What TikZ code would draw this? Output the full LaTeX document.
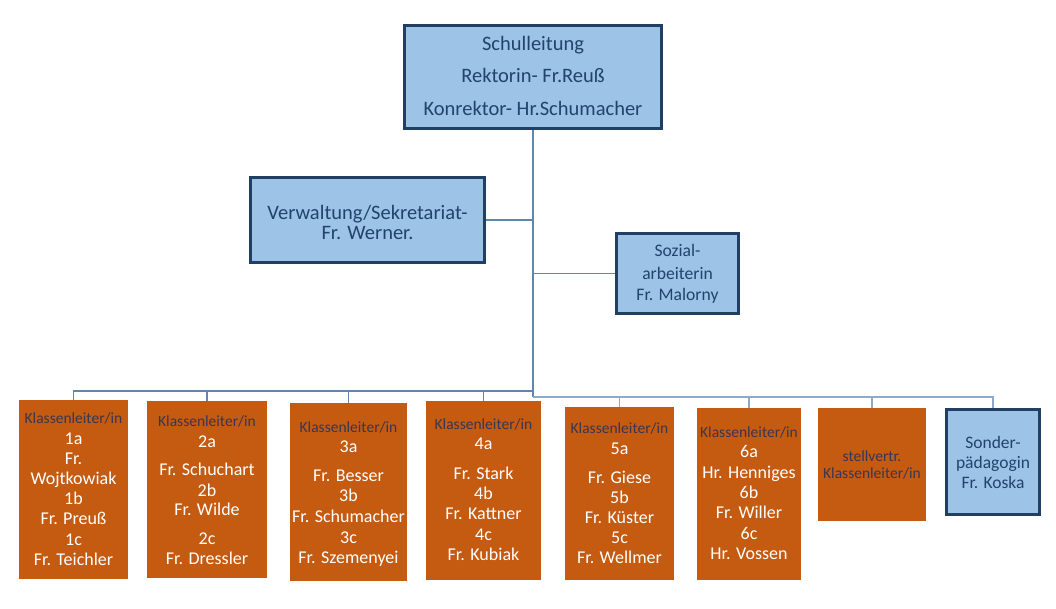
\documentclass[tikz,border=0pt]{standalone}
\usepackage{fontspec}
\setmainfont{Carlito}
\definecolor{boxblue}{HTML}{9DC3E6}
\definecolor{boxedge}{HTML}{213F60}
\definecolor{txtblue}{HTML}{22436B}
\definecolor{orng}{HTML}{C55A11}
\definecolor{klt}{HTML}{3A3650}
\definecolor{conn}{HTML}{5E86B0}
\definecolor{connlt}{HTML}{8EAACB}
\pgfdeclarelayer{bg}
\pgfsetlayers{bg,main}
\tikzset{
  bluebox/.style={draw=boxedge, fill=boxblue, line width=2.6pt, inner sep=0pt},
  orangebox/.style={fill=orng, draw=none, inner sep=0pt},
  conline/.style={draw=conn, line width=1.6pt},
  conlight/.style={draw=connlt, line width=1.6pt},
  bt/.style={anchor=base, text=txtblue, inner sep=0pt},
  wt/.style={anchor=base, text=white, font=\fontsize{18}{20}\selectfont, inner sep=0pt},
  kt/.style={anchor=base, text=klt, font=\fontsize{15.5}{18}\selectfont, inner sep=0pt}
}
\newcommand\klines[3]{%
  \foreach \yy/\tx [count=\i] in {#3} \node[wt] (#1\i) at (#2,\yy) {\tx};}
\begin{document}
\begin{tikzpicture}[x=1pt,y=-1pt]
\useasboundingbox (0,0) rectangle (1056,608);

% top box
\node[bluebox, minimum width=257.4pt, minimum height=103.4pt] (top) at (533,77) {};
\node[bt, font=\fontsize{20.5}{24}\selectfont] (top1) at (533,50) {Schulleitung};
\node[bt, font=\fontsize{20.5}{24}\selectfont] (top2) at (533,82) {Rektorin- Fr.Reuß};
\node[bt, font=\fontsize{20.5}{24}\selectfont] (top3) at (533,115) {Konrektor- Hr.Schumacher};

% Verwaltung
\node[bluebox, minimum width=234.4pt, minimum height=85.4pt] (verw) at (367.5,220) {};
\node[bt, font=\fontsize{20.5}{24}\selectfont] (verw1) at (367.5,219) {Verwaltung/Sekretariat-};
\node[bt, font=\fontsize{20.5}{24}\selectfont] (verw2) at (367.5,239) {Fr. Werner.};

% Sozial
\node[bluebox, minimum width=122.4pt, minimum height=80.4pt] (soz) at (677.5,273.5) {};
\node[bt, font=\fontsize{17.6}{20}\selectfont] (soz1) at (677.5,256) {Sozial-};
\node[bt, font=\fontsize{17.6}{20}\selectfont] (soz2) at (677.5,279) {arbeiterin};
\node[bt, font=\fontsize{17.6}{20}\selectfont] (soz3) at (677.5,300) {Fr. Malorny};

% orange boxes
\node[orangebox, minimum width=109pt, minimum height=179pt] (k1) at (73.5,489.5) {};
\node[orangebox, minimum width=120pt, minimum height=177pt] (k2) at (207,489.5) {};
\node[orangebox, minimum width=117pt, minimum height=178pt] (k3) at (348.5,492) {};
\node[orangebox, minimum width=115pt, minimum height=179pt] (k4) at (483.5,490.5) {};
\node[orangebox, minimum width=109pt, minimum height=173pt] (k5) at (619.5,493.5) {};
\node[orangebox, minimum width=104pt, minimum height=172pt] (k6) at (749,494) {};
\node[orangebox, minimum width=108pt, minimum height=113pt] (k7) at (872,464.5) {};
\node[bluebox, minimum width=93.4pt, minimum height=105.4pt] (k8) at (993,462) {};

% texts of orange boxes
\node[kt] (k1h) at (73.5,423) {Klassenleiter/in};
\klines{ka}{73.5}{444/1a, 464/Fr., 484/Wojtkowiak, 504/1b, 524/Fr. Preuß, 545/1c, 565/Fr. Teichler}
\node[kt] (k2h) at (207,426) {Klassenleiter/in};
\klines{kb}{207}{447/2a, 475/Fr. Schuchart, 496/2b, 515/Fr. Wilde, 544/2c, 564/Fr. Dressler}
\node[kt] (k3h) at (348.5,432) {Klassenleiter/in};
\klines{kc}{348.5}{452/3a, 481/Fr. Besser, 501/3b, 522/Fr. Schumacher, 543/3c, 563/Fr. Szemenyei}
\node[kt] (k4h) at (483.5,429) {Klassenleiter/in};
\klines{kd}{483.5}{449/4a, 479/Fr. Stark, 499/4b, 519/Fr. Kattner, 540/4c, 560/Fr. Kubiak}
\node[kt] (k5h) at (619.5,433) {Klassenleiter/in};
\klines{ke}{619.5}{454/5a, 483/Fr. Giese, 503/5b, 523/Fr. Küster, 543/5c, 563/Fr. Wellmer}
\node[kt] (k6h) at (749,437) {Klassenleiter/in};
\klines{kf}{749}{457/6a, 478/Hr. Henniges, 498/6b, 518/Fr. Willer, 539/6c, 559/Hr. Vossen}
\node[kt] (k7a) at (872,461) {stellvertr.};
\node[kt] (k7b) at (872,478) {Klassenleiter/in};
\node[bt, font=\fontsize{17.5}{20}\selectfont] (k8a) at (993,448) {Sonder-};
\node[bt, font=\fontsize{17.5}{20}\selectfont] (k8b) at (993,468) {pädagogin};
\node[bt, font=\fontsize{17.5}{20}\selectfont] (k8c) at (993,488) {Fr. Koska};

% connectors
\coordinate (jL) at (533,391);
\coordinate (jR) at (533,397);
\begin{pgfonlayer}{bg}
\fill[white] (0,0) rectangle (1056,608);
\draw[conline] (top.south) -- (jR);
\draw[conline] (verw.east) -- (verw.east -| top.south);
\draw[conline] (soz.west) -- (soz.west -| top.south);
\foreach \k in {k1,k2,k3,k4} \draw[conline] (jL) -| (\k.north);
\foreach \k in {k5,k6,k7,k8} \draw[conlight] (jR) -| (\k.north);
\end{pgfonlayer}
\end{tikzpicture}
\end{document}
